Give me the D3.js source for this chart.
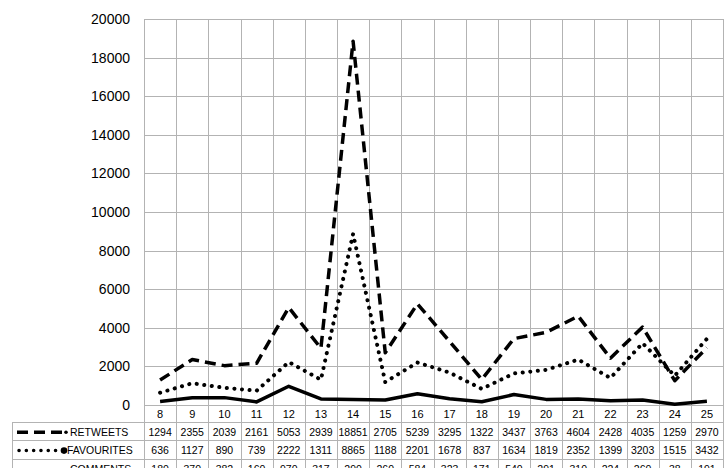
<!DOCTYPE html>
<html><head><meta charset="utf-8">
<script src="https://cdn.jsdelivr.net/npm/d3@7"></script>
<style>body{margin:0;background:#fff}svg{display:block}text{font-family:"Liberation Sans",Arial,sans-serif;fill:#000}</style>
</head><body>
<svg id="c" width="724" height="468"></svg>
<script>
const categories = ["8","9","10","11","12","13","14","15","16","17","18","19","20","21","22","23","24","25"];
const retweets = [1294,2355,2039,2161,5053,2939,18851,2705,5239,3295,1322,3437,3763,4604,2428,4035,1259,2970];
const favourites = [636,1127,890,739,2222,1311,8865,1188,2201,1678,837,1634,1819,2352,1399,3203,1515,3432];
const comments = [180,370,382,160,970,317,290,260,584,323,171,540,291,310,224,260,38,191];
const seriesNames = ["RETWEETS","FAVOURITES","COMMENTS"];
const yTicks = [0,2000,4000,6000,8000,10000,12000,14000,16000,18000,20000];

(function(){
const svg = d3.select("#c");
const pLeft = 144, pRight = 723, pTop = 19, pBottom = 405;
const tableLeft = 12, rowTop = 422, rowH = 18.4;
const grid = "#b3b3b3";

const x = d3.scaleBand().domain(categories).range([pLeft, pRight]);
const y = d3.scaleLinear().domain([0, 20000]).range([pBottom, pTop]);

// horizontal gridlines
svg.append("g").selectAll("line").data(yTicks).join("line")
  .attr("x1", pLeft).attr("x2", pRight)
  .attr("y1", d => Math.round(y(d)) + 0.5).attr("y2", d => Math.round(y(d)) + 0.5)
  .attr("stroke", grid).attr("stroke-width", 1);

// vertical gridlines (through category row and table)
const bounds = categories.map(c => x(c)).concat([pRight]);
svg.append("g").selectAll("line").data(bounds).join("line")
  .attr("x1", d => Math.round(d) + 0.5).attr("x2", d => Math.round(d) + 0.5)
  .attr("y1", pTop).attr("y2", 468)
  .attr("stroke", grid).attr("stroke-width", 1);

// table horizontal lines
const rows = [0,1,2,3];
svg.append("g").selectAll("line").data(rows).join("line")
  .attr("x1", tableLeft).attr("x2", pRight)
  .attr("y1", d => Math.round(rowTop + d*rowH) + 0.5).attr("y2", d => Math.round(rowTop + d*rowH) + 0.5)
  .attr("stroke", grid);
svg.append("line").attr("x1", tableLeft + 0.5).attr("x2", tableLeft + 0.5)
  .attr("y1", rowTop).attr("y2", 468).attr("stroke", grid);

// y axis labels
svg.append("g").selectAll("text").data(yTicks).join("text")
  .attr("x", 130).attr("y", d => y(d)).attr("dy", "0.35em")
  .attr("text-anchor", "end").style("font-size", "14px").text(d => d);

// category labels
svg.append("g").selectAll("text").data(categories).join("text")
  .attr("x", d => x(d) + x.bandwidth()/2).attr("y", 414).attr("dy", "0.35em")
  .attr("text-anchor", "middle").style("font-size", "11px").text(d => d);

// table values
const tableData = [retweets, favourites, comments];
tableData.forEach((arr, r) => {
  svg.append("g").selectAll("text").data(arr).join("text")
    .attr("x", (d, i) => x(categories[i]) + x.bandwidth()/2)
    .attr("y", rowTop + r*rowH + rowH/2 + 1).attr("dy", "0.35em")
    .attr("text-anchor", "middle").style("font-size", "10.5px").text(d => d);
});

// lines
const line = d3.line().x((d, i) => x(categories[i]) + x.bandwidth()/2).y(d => y(d));
const styles = [
  {dash: "11 6", cap: "butt", w: 3.5},
  {dash: "0.1 7.5", cap: "round", w: 4},
  {dash: null, cap: "butt", w: 3.5}
];
tableData.forEach((arr, r) => {
  svg.append("path").datum(arr).attr("d", line)
    .attr("fill", "none").attr("stroke", "#000")
    .attr("stroke-width", styles[r].w).attr("stroke-linecap", styles[r].cap)
    .attr("stroke-linejoin", "round")
    .attr("stroke-dasharray", styles[r].dash);
});

// legend keys in table
const keyY = r => rowTop + r*rowH + rowH/2 + 1;
svg.append("line").attr("x1", 17).attr("x2", 62).attr("y1", keyY(0)).attr("y2", keyY(0))
  .attr("stroke", "#000").attr("stroke-width", 3.5).attr("stroke-dasharray", "11 6");
svg.append("circle").attr("cx", 66).attr("cy", keyY(0)).attr("r", 1.8).attr("fill", "#000");
svg.append("line").attr("x1", 19).attr("x2", 58).attr("y1", keyY(1)).attr("y2", keyY(1))
  .attr("stroke", "#000").attr("stroke-width", 3.5).attr("stroke-linecap", "round").attr("stroke-dasharray", "0.1 7.2");
svg.append("circle").attr("cx", 64).attr("cy", keyY(1)).attr("r", 3.3).attr("fill", "#000");
svg.append("line").attr("x1", 17).attr("x2", 63).attr("y1", keyY(2) + 2).attr("y2", keyY(2) + 2)
  .attr("stroke", "#000").attr("stroke-width", 3.5);

const legendX = [70, 67, 70];
seriesNames.forEach((n, r) => {
  svg.append("text").attr("x", legendX[r]).attr("y", keyY(r)).attr("dy", "0.35em")
    .style("font-size", "10.5px").text(n);
});
})();
</script>
</body></html>
